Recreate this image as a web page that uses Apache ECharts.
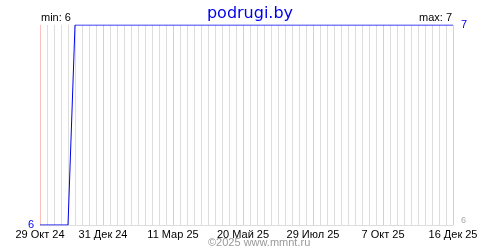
<!DOCTYPE html>
<html><head><meta charset="utf-8">
<script src="https://cdn.jsdelivr.net/npm/echarts@6/dist/echarts.min.js"></script>
<style>html,body{margin:0;padding:0;background:#fff}#c{width:500px;height:250px}</style>
</head><body><div id="c"></div>
<script>
const titleText = 'podrugi.by';
const footerText = '©2025 www.mmnt.ru';
const dates = ['2024-10-29', '2024-11-26', '2024-12-03', '2025-12-16'];
const values = [6, 6, 7, 7];
const tickDates = ['2024-10-29', '2024-12-31', '2025-03-11', '2025-05-20', '2025-07-29', '2025-10-07', '2025-12-16'];
const tickLabels = ['29 Окт 24', '31 Дек 24', '11 Мар 25', '20 Май 25', '29 Июл 25', '7 Окт 25', '16 Дек 25'];

const DAY = 86400000;
const t0 = Date.parse(tickDates[0]);
const dayOf = d => Math.round((Date.parse(d) - t0) / DAY);
const tickDays = tickDates.map(dayOf);
const seriesData = dates.map((d, i) => [dayOf(d), values[i]]);
const minVal = Math.min(...values), maxVal = Math.max(...values);
const FONT = 'Liberation Sans';

const chart = echarts.init(document.getElementById('c'), null, {renderer: 'canvas'});
chart.setOption({
  animation: false,
  textStyle: {fontFamily: FONT},
  title: {text: titleText, left: 'center', top: 1,
    textStyle: {color: '#0000ee', fontSize: 16, fontWeight: 'normal', fontFamily: 'DejaVu Sans'}},
  grid: {left: 40, right: 47, top: 25, bottom: 25, containLabel: false},
  xAxis: {type: 'value', min: 0, max: tickDays[tickDays.length - 1], interval: 7,
    axisLine: {show: true, lineStyle: {color: '#dddddd', width: 1}},
    axisTick: {show: false},
    splitLine: {show: true, lineStyle: {color: '#dddddd', width: 1}},
    axisLabel: {show: true, margin: 4, color: '#000', fontSize: 11, fontFamily: FONT,
      showMinLabel: true, showMaxLabel: true, hideOverlap: false,
      formatter: v => { const i = tickDays.indexOf(Math.round(v)); return i >= 0 ? tickLabels[i] : ''; }}
  },
  yAxis: [
    {type: 'value', min: minVal, max: maxVal, interval: 1, position: 'left',
      axisLine: {show: false}, axisTick: {show: false}, splitLine: {show: false},
      axisLabel: {margin: 6, fontSize: 11, color: '#0000ee',
        formatter: v => v === minVal ? String(v) : ''}},
    {type: 'value', min: minVal, max: maxVal, interval: 1, position: 'right',
      axisLine: {show: false}, axisTick: {show: false}, splitLine: {show: false},
      axisLabel: {margin: 8, fontSize: 11,
        formatter: v => v === maxVal ? '{a|' + v + '}' : '{b|' + v + '}',
        rich: {a: {color: '#0000ee', fontSize: 11, fontFamily: FONT},
               b: {color: '#aaaaaa', fontSize: 9, fontFamily: FONT, padding: [0, 0, 8, 0]}}}}
  ],
  graphic: [
    {type: 'text', left: 41, top: 12, style: {text: 'min: ' + minVal, fill: '#000', font: '11px "Liberation Sans"'}},
    {type: 'text', right: 48, top: 12, style: {text: 'max: ' + maxVal, fill: '#000', font: '11px "Liberation Sans"'}},
    {type: 'text', left: 208, top: 237, style: {text: footerText, fill: '#999999', font: '11px "Liberation Sans"'}}
  ],
  series: [
    {type: 'custom', z: 5,
      data: tickDays.map(d => [d, minVal]),
      renderItem: (params, api) => {
        const top = api.coord([api.value(0), maxVal]);
        const bot = api.coord([api.value(0), minVal]);
        const x = Math.round(top[0]) + 0.5;
        return {type: 'line', shape: {x1: x, y1: top[1], x2: x, y2: bot[1]},
          style: {stroke: '#ffbfbf', lineWidth: 1}};
      }},
    {type: 'line', data: seriesData, z: 10, showSymbol: false, symbol: 'none',
      lineStyle: {color: '#0000ee', width: 1}}
  ]
});
</script></body></html>
